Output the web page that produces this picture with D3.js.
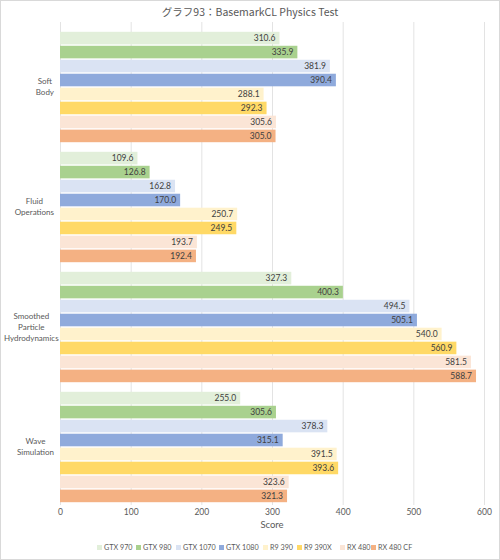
<!DOCTYPE html>
<html><head><meta charset="utf-8">
<script src="https://cdn.jsdelivr.net/npm/d3@7"></script>
<style>body{margin:0;background:#fff}svg{display:block}</style>
</head><body>
<svg id="c" width="500" height="560"></svg>
<script>
const categories = ["Soft Body", "Fluid Operations", "Smoothed Particle Hydrodynamics", "Wave Simulation"];
const categoryLines = [["Soft","Body"],["Fluid","Operations"],["Smoothed","Particle","Hydrodynamics"],["Wave","Simulation"]];
const seriesNames = ["GTX 970","GTX 980","GTX 1070","GTX 1080","R9 390","R9 390X","RX 480","RX 480 CF"];
const seriesColors = ["#E2EFDA","#A9D18E","#DAE3F3","#8FAADC","#FFF2CC","#FFD966","#FBE5D6","#F4B183"];
const gtx970 = [310.6, 109.6, 327.3, 255.0];
const gtx980 = [335.9, 126.8, 400.3, 305.6];
const gtx1070 = [381.9, 162.8, 494.5, 378.3];
const gtx1080 = [390.4, 170.0, 505.1, 315.1];
const r9390 = [288.1, 250.7, 540.0, 391.5];
const r9390x = [292.3, 249.5, 560.9, 393.6];
const rx480 = [305.6, 193.7, 581.5, 323.6];
const rx480cf = [305.0, 192.4, 588.7, 321.3];
const seriesValues = [gtx970, gtx980, gtx1070, gtx1080, r9390, r9390x, rx480, rx480cf];
const xTicks = [0,100,200,300,400,500,600];
const title = "グラフ93：BasemarkCL Physics Test";
const xTitle = "Score";

const svg = d3.select("#c");
const font = "Lato, 'Noto Sans', sans-serif";
svg.append("rect").attr("x",0.5).attr("y",0.5).attr("width",499).attr("height",559)
  .attr("fill","#fff").attr("stroke","#d9d9d9");

const pLeft = 60, pRight = 484, pTop = 27, pBottom = 507;
const x = d3.scaleLinear().domain([0,600]).range([pLeft,pRight]);
const y0 = d3.scaleBand().domain(categories).range([pTop,pBottom]).paddingInner(0.08).paddingOuter(0.04);
const y1 = d3.scaleBand().domain(seriesNames).range([0,y0.bandwidth()]).paddingInner(0.1);

// grid
svg.append("g").selectAll("line").data(xTicks).join("line")
  .attr("x1",d=>x(d)+0.5).attr("x2",d=>x(d)+0.5).attr("y1",22).attr("y2",pBottom-2)
  .attr("stroke","#e3e3e3").attr("stroke-width",1);

// axis labels
const ax = svg.append("g").attr("transform",`translate(0,${pBottom})`)
  .call(d3.axisBottom(x).tickValues(xTicks).tickSize(0).tickPadding(2));
ax.select(".domain").remove();
ax.selectAll("text").attr("font-family",font).attr("font-size",8.5).attr("fill","#595959");

// bars
const groups = svg.append("g").selectAll("g").data(categories).join("g")
  .attr("transform",c=>`translate(0,${y0(c)})`);
seriesNames.forEach((s,si)=>{
  groups.append("rect")
    .attr("x",x(0)).attr("y",y1(s)).attr("height",y1.bandwidth())
    .attr("width",(c,ci)=>x(seriesValues[si][ci])-x(0))
    .attr("fill",seriesColors[si]);
  groups.append("text")
    .attr("x",(c,ci)=>x(seriesValues[si][ci])-4).attr("y",y1(s)+y1.bandwidth()/2)
    .attr("dy","0.35em").attr("text-anchor","end")
    .attr("font-family",font).attr("font-size",8.5).attr("fill","#404040")
    .text((c,ci)=>seriesValues[si][ci].toFixed(1));
});

// category labels
const catSize = 8;
const tmp = svg.append("text").attr("font-family",font).attr("font-size",catSize);
categories.forEach((c,ci)=>{
  const lines = categoryLines[ci];
  let mw = 0;
  lines.forEach(l=>{tmp.text(l); mw=Math.max(mw,tmp.node().getComputedTextLength());});
  const cx = Math.max(54 - mw/2, mw/2 + 4);
  const cy = y0(c)+y0.bandwidth()/2;
  const lh = 11;
  lines.forEach((l,li)=>{
    svg.append("text").attr("x",cx).attr("y",cy+(li-(lines.length-1)/2)*lh)
      .attr("dy","0.35em").attr("text-anchor","middle")
      .attr("font-family",font).attr("font-size",catSize).attr("fill","#595959").text(l);
  });
});
tmp.remove();

// title
svg.append("text").attr("x",250).attr("y",12).attr("dy","0.35em").attr("text-anchor","middle")
  .attr("font-family","'Noto Sans CJK JP', sans-serif").attr("font-size",10.5).attr("fill","#595959").text(title);
// axis title
svg.append("text").attr("x",x(300)).attr("y",525).attr("dy","0.35em").attr("text-anchor","middle")
  .attr("font-family",font).attr("font-size",9.5).attr("fill","#595959").text(xTitle);

// legend
const legX = [97,136,176,219,263,297,340,371];
const leg = svg.append("g");
seriesNames.forEach((s,i)=>{
  leg.append("rect").attr("x",legX[i]).attr("y",545).attr("width",5).attr("height",5).attr("fill",seriesColors[i]);
  leg.append("text").attr("x",legX[i]+7).attr("y",547.5).attr("dy","0.35em")
    .attr("font-family",font).attr("font-size",7.2).attr("fill","#595959").text(s);
});
</script>
</body></html>
